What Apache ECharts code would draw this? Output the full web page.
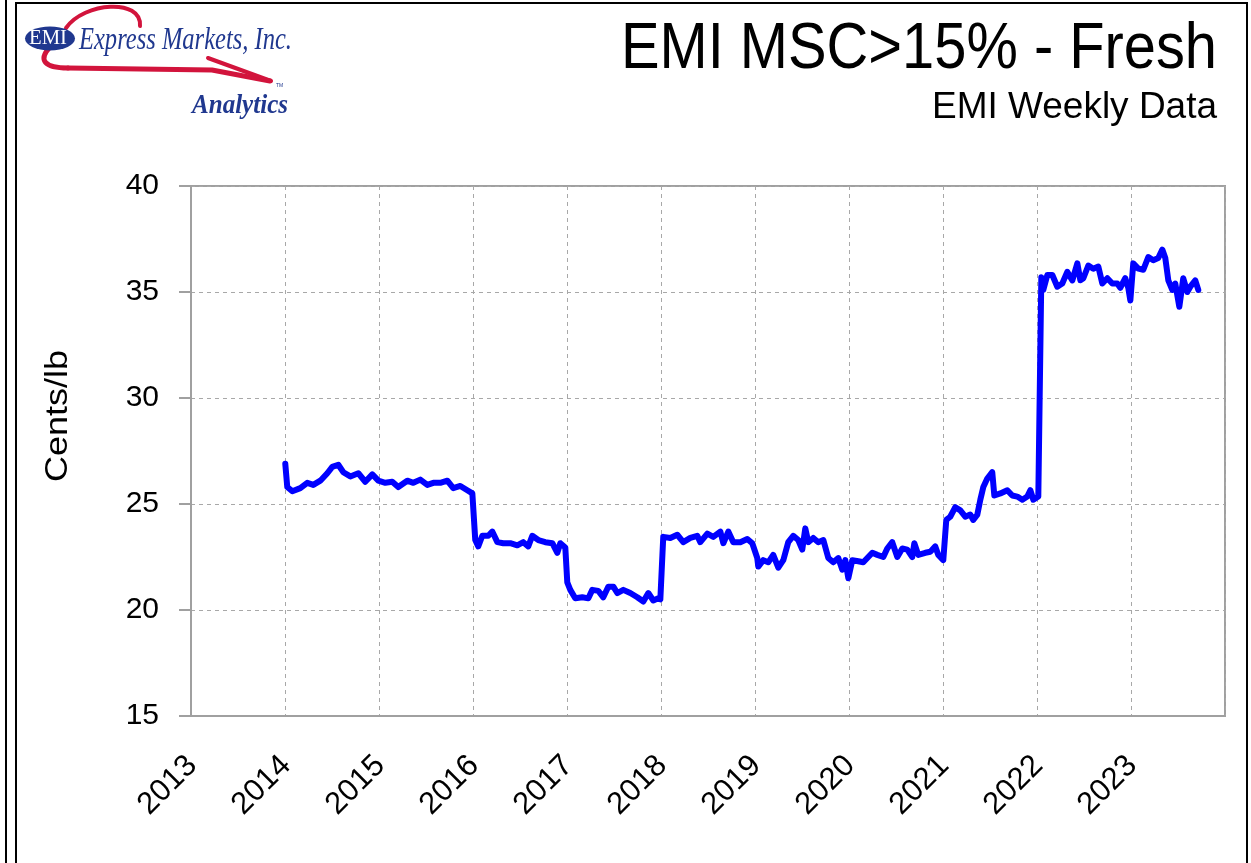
<!DOCTYPE html>
<html>
<head>
    <meta charset="utf-8">
    <title>EMI MSC>15% - Fresh</title>
    <script src="https://cdn.jsdelivr.net/npm/echarts@6/dist/echarts.min.js"></script>
    <style type="text/css">
        body{
            margin: 0;
            background: #fff;
        }
        #main{
            width: 1251px;
            height: 863px;
        }
    </style>
</head>
<body>
<div id="main"></div>
<script>
    // weekly series (decimal year, cents/lb)
    var weeks = [
        2014.003, 2014.024, 2014.078, 2014.163, 2014.237, 2014.301, 2014.376, 2014.450, 2014.503, 2014.567,
        2014.620, 2014.695, 2014.780, 2014.854, 2014.929, 2014.993, 2015.067, 2015.141, 2015.205, 2015.301,
        2015.365, 2015.439, 2015.514, 2015.578, 2015.652, 2015.727, 2015.790, 2015.865, 2015.939, 2015.993,
        2016.024, 2016.035, 2016.056, 2016.099, 2016.163, 2016.205, 2016.259, 2016.322, 2016.397, 2016.471,
        2016.535, 2016.588, 2016.631, 2016.695, 2016.769, 2016.844, 2016.897, 2016.929, 2016.982, 2017.003,
        2017.035, 2017.088, 2017.163, 2017.227, 2017.269, 2017.333, 2017.386, 2017.439, 2017.493, 2017.535,
        2017.599, 2017.673, 2017.748, 2017.812, 2017.865, 2017.918, 2017.971, 2017.993, 2018.024, 2018.099,
        2018.173, 2018.237, 2018.312, 2018.386, 2018.418, 2018.493, 2018.556, 2018.631, 2018.663, 2018.716,
        2018.769, 2018.844, 2018.918, 2018.971, 2019.024, 2019.035, 2019.088, 2019.141, 2019.194, 2019.248,
        2019.301, 2019.354, 2019.407, 2019.460, 2019.503, 2019.535, 2019.567, 2019.620, 2019.673, 2019.727,
        2019.780, 2019.833, 2019.886, 2019.929, 2019.961, 2019.993, 2020.035, 2020.099, 2020.152, 2020.248,
        2020.301, 2020.365, 2020.407, 2020.460, 2020.514, 2020.567, 2020.620, 2020.673, 2020.695, 2020.737,
        2020.812, 2020.865, 2020.918, 2020.950, 2021.003, 2021.035, 2021.077, 2021.131, 2021.184, 2021.237,
        2021.290, 2021.322, 2021.365, 2021.397, 2021.429, 2021.471, 2021.524, 2021.546, 2021.610, 2021.684,
        2021.737, 2021.790, 2021.844, 2021.897, 2021.929, 2021.961, 2022.014, 2022.046, 2022.067, 2022.110,
        2022.163, 2022.216, 2022.269, 2022.322, 2022.376, 2022.429, 2022.461, 2022.493, 2022.546, 2022.599,
        2022.652, 2022.695, 2022.748, 2022.801, 2022.854, 2022.886, 2022.939, 2022.971, 2022.993, 2023.024,
        2023.078, 2023.131, 2023.184, 2023.237, 2023.290, 2023.333, 2023.365, 2023.397, 2023.439, 2023.471,
        2023.514, 2023.556, 2023.599, 2023.631, 2023.684, 2023.716
    ];
    var cents = [
        26.9, 25.8, 25.6, 25.75, 26.0, 25.9, 26.1, 26.45, 26.75, 26.85,
        26.5, 26.3, 26.45, 26.05, 26.4, 26.1, 26.0, 26.05, 25.8, 26.1,
        26.0, 26.15, 25.9, 26.0, 26.0, 26.1, 25.75, 25.85, 25.65, 25.5,
        23.3, 23.3, 23.0, 23.5, 23.5, 23.7, 23.2, 23.15, 23.15, 23.05,
        23.2, 23.0, 23.5, 23.3, 23.2, 23.15, 22.7, 23.15, 22.95, 21.3,
        20.95, 20.55, 20.6, 20.55, 20.95, 20.9, 20.6, 21.1, 21.1, 20.8,
        20.95, 20.8, 20.6, 20.4, 20.8, 20.45, 20.55, 20.5, 23.45, 23.4,
        23.55, 23.2, 23.4, 23.5, 23.2, 23.6, 23.45, 23.7, 23.15, 23.7,
        23.2, 23.2, 23.35, 23.15, 22.45, 22.05, 22.35, 22.25, 22.6, 22.0,
        22.35, 23.2, 23.5, 23.3, 22.85, 23.85, 23.2, 23.4, 23.2, 23.3,
        22.45, 22.25, 22.45, 21.9, 22.35, 21.5, 22.35, 22.3, 22.25, 22.7,
        22.6, 22.5, 22.9, 23.2, 22.5, 22.9, 22.85, 22.5, 23.15, 22.6,
        22.7, 22.75, 23.0, 22.6, 22.35, 24.25, 24.4, 24.85, 24.7, 24.4,
        24.5, 24.25, 24.5, 25.2, 25.8, 26.2, 26.5, 25.4, 25.5, 25.65,
        25.4, 25.35, 25.2, 25.35, 25.65, 25.2, 25.35, 35.7, 35.1, 35.8,
        35.8, 35.25, 35.4, 35.95, 35.55, 36.35, 35.55, 35.65, 36.25, 36.1,
        36.2, 35.4, 35.65, 35.4, 35.4, 35.2, 35.65, 35.2, 34.6, 36.35,
        36.1, 36.05, 36.65, 36.5, 36.6, 37.0, 36.6, 35.55, 35.1, 35.4,
        34.3, 35.65, 35.0, 35.25, 35.55, 35.1
    ];
    var yearTicks = [2013, 2014, 2015, 2016, 2017, 2018, 2019, 2020, 2021, 2022, 2023];
    var centTicks = [15, 20, 25, 30, 35, 40];

    var sans = '"Liberation Sans", Arial, sans-serif';
    var serif = '"Liberation Serif", "Times New Roman", serif';
    var measure = document.createElement('canvas').getContext('2d');
    // squeeze a text so it spans the width seen in the picture
    function fit(text, font, width) {
        measure.font = font;
        return width / measure.measureText(text).width;
    }

    var red = '#d2143c';
    var navy = '#20388f';

    var myChart = echarts.init(document.getElementById('main'));
    var option = {
        animation: false,
        backgroundColor: '#fff',
        grid: {
            left: 191, top: 186, right: 26, bottom: 147,
            show: true, borderColor: '#a0a0a0', borderWidth: 2
        },
        xAxis: {
            type: 'value',
            min: yearTicks[0],
            max: yearTicks[yearTicks.length - 1] + 1,
            interval: 1,
            axisLine: {lineStyle: {color: '#a0a0a0', width: 2}},
            axisTick: {show: false},
            splitLine: {lineStyle: {color: '#a8a8a8', type: [4, 4], width: 1}},
            axisLabel: {
                rotate: 45, margin: 24, align: 'right', verticalAlign: 'top',
                padding: [0, 14, 0, 0],
                color: '#000', fontSize: 31, fontFamily: sans,
                formatter: function (v) { return yearTicks.indexOf(v) >= 0 ? String(v) : ''; }
            }
        },
        yAxis: {
            type: 'value',
            min: centTicks[0],
            max: centTicks[centTicks.length - 1],
            interval: 5,
            axisLine: {show: true, lineStyle: {color: '#a0a0a0', width: 2}},
            axisTick: {show: true, inside: false, length: 12, lineStyle: {color: '#a0a0a0', width: 2}},
            splitLine: {lineStyle: {color: '#a8a8a8', type: [4, 4], width: 1}},
            axisLabel: {margin: 32, color: '#000', fontSize: 30, fontFamily: sans}
        },
        series: [{
            type: 'line',
            data: weeks.map(function (w, i) { return [w, cents[i]]; }),
            showSymbol: false,
            lineStyle: {color: '#0000ff', width: 6, cap: 'round', join: 'round'}
        }],
        graphic: [
            // page frame
            {type: 'line', shape: {x1: 6, y1: 0, x2: 6, y2: 863}, style: {stroke: '#000', lineWidth: 2}},
            {type: 'rect', shape: {x: 16, y: 3, width: 1231, height: 900}, style: {fill: 'none', stroke: '#000', lineWidth: 2}},
            // logo
            {type: 'bezierCurve', shape: {x1: 66, y1: 28, cpx1: 84, cpy1: 2, cpx2: 142, cpy2: -2, x2: 140, y2: 26},
                style: {fill: 'none', stroke: red, lineWidth: 4, lineCap: 'round'}},
            {type: 'bezierCurve', shape: {x1: 50, y1: 47, cpx1: 38, cpy1: 60, cpx2: 44, cpy2: 68, x2: 68, y2: 68},
                style: {fill: 'none', stroke: red, lineWidth: 5, lineCap: 'round'}},
            {type: 'polyline', shape: {points: [[68, 68], [212, 70], [270, 81]]},
                style: {fill: 'none', stroke: red, lineWidth: 5, lineCap: 'round', lineJoin: 'round'}},
            {type: 'line', shape: {x1: 208, y1: 58, x2: 271, y2: 81},
                style: {stroke: red, lineWidth: 4, lineCap: 'round'}},
            {type: 'circle', x: 50, y: 38.5, scaleY: 0.48, shape: {cx: 0, cy: 0, r: 25}, style: {fill: navy}},
            {type: 'text', x: 48, y: 39, scaleX: fit('EMI', '20px ' + serif, 38),
                style: {text: 'EMI', font: '20px ' + serif, fill: '#fff', align: 'center', verticalAlign: 'middle'}},
            {type: 'text', x: 79, y: 41, scaleX: fit('Express Markets, Inc.', 'italic 32px ' + serif, 213),
                style: {text: 'Express Markets, Inc.', font: 'italic 32px ' + serif, fill: navy, verticalAlign: 'middle'}},
            {type: 'text', x: 276, y: 86,
                style: {text: 'TM', font: '5px ' + sans, fill: navy, verticalAlign: 'middle'}},
            {type: 'text', x: 288, y: 106, scaleX: fit('Analytics', 'bold italic 27px ' + serif, 96),
                style: {text: 'Analytics', font: 'bold italic 27px ' + serif, fill: navy, align: 'right', verticalAlign: 'middle'}},
            // titles
            {type: 'text', x: 1217, y: 50, scaleX: fit('EMI MSC>15% - Fresh', '64px ' + sans, 596),
                style: {text: 'EMI MSC>15% - Fresh', font: '64px ' + sans, fill: '#000', align: 'right', verticalAlign: 'middle'}},
            {type: 'text', x: 1217, y: 108, scaleX: fit('EMI Weekly Data', '36px ' + sans, 285),
                style: {text: 'EMI Weekly Data', font: '36px ' + sans, fill: '#000', align: 'right', verticalAlign: 'middle'}},
            // axis name
            {type: 'text', x: 58, y: 416, rotation: Math.PI / 2, scaleX: fit('Cents/lb', '31px ' + sans, 132),
                style: {text: 'Cents/lb', font: '31px ' + sans, fill: '#000', align: 'center', verticalAlign: 'middle'}}
        ]
    };
    myChart.setOption(option);
</script>
</body>
</html>
